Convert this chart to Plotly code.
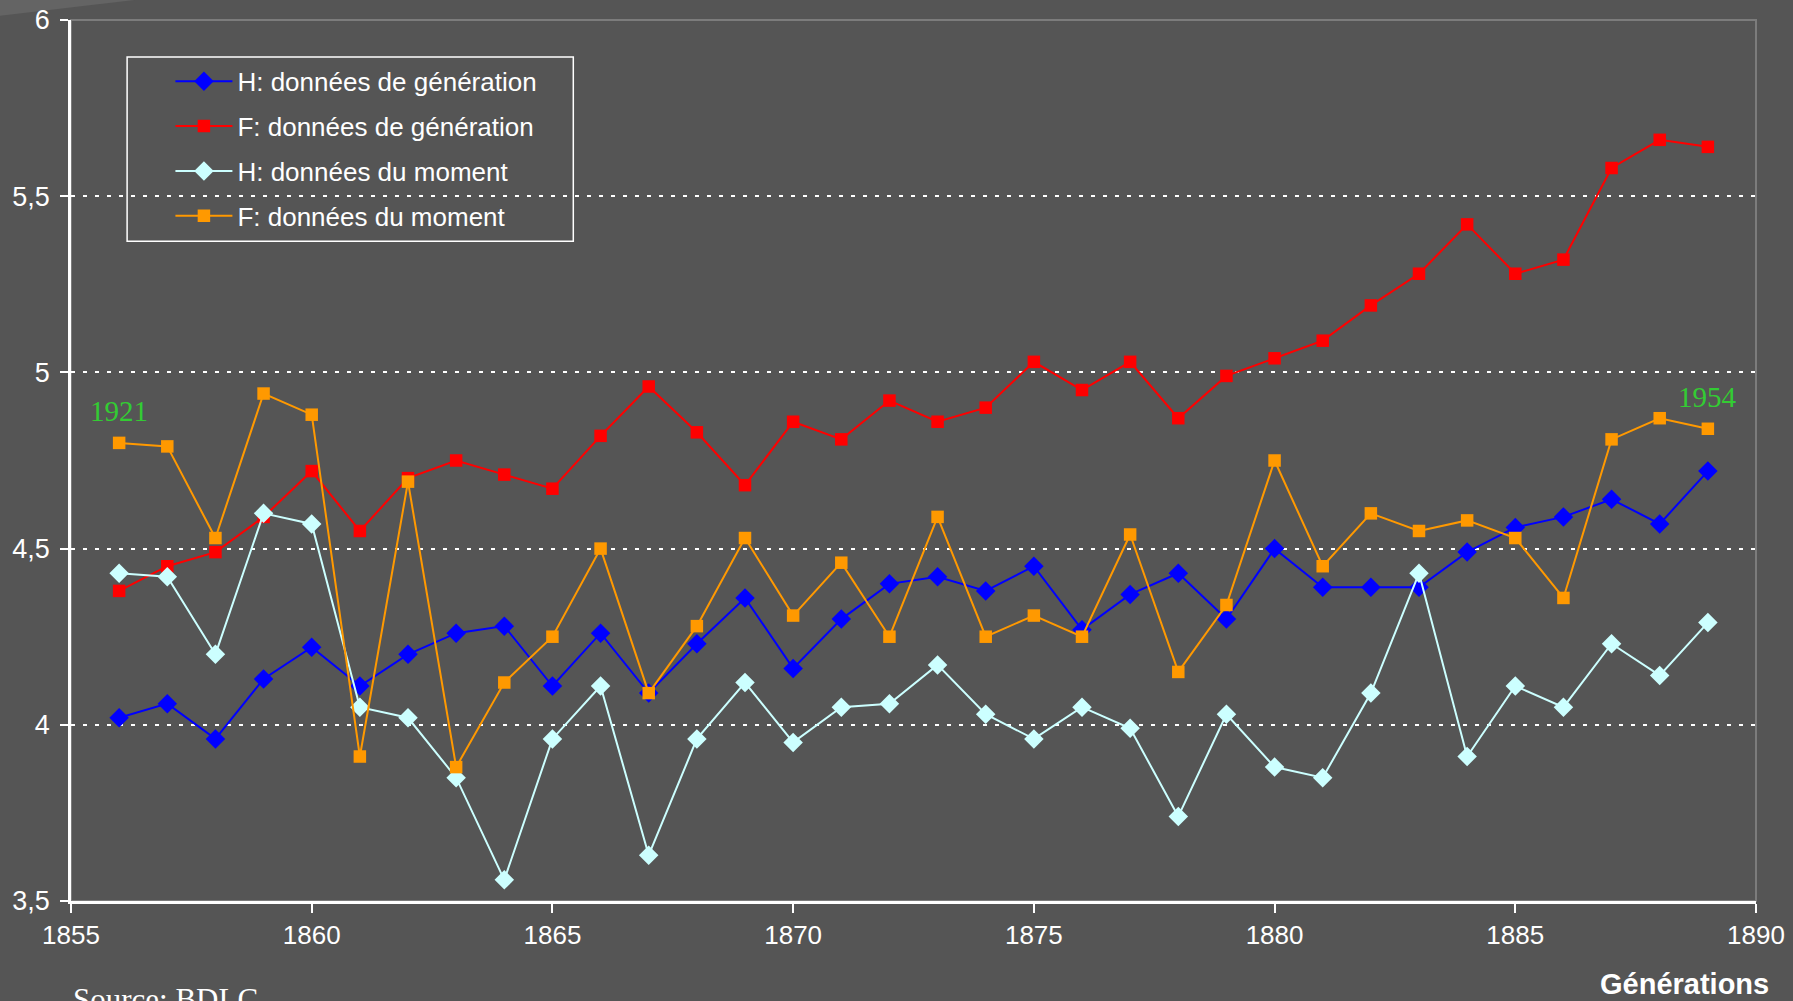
import plotly.graph_objects as go

years = list(range(1856, 1890))

h_generation = [4.02, 4.06, 3.96, 4.13, 4.22, 4.11, 4.20, 4.26, 4.28, 4.11,
                4.26, 4.09, 4.23, 4.36, 4.16, 4.30, 4.40, 4.42, 4.38, 4.45,
                4.27, 4.37, 4.43, 4.30, 4.50, 4.39, 4.39, 4.39, 4.49, 4.56,
                4.59, 4.64, 4.57, 4.72]
f_generation = [4.38, 4.45, 4.49, 4.59, 4.72, 4.55, 4.70, 4.75, 4.71, 4.67,
                4.82, 4.96, 4.83, 4.68, 4.86, 4.81, 4.92, 4.86, 4.90, 5.03,
                4.95, 5.03, 4.87, 4.99, 5.04, 5.09, 5.19, 5.28, 5.42, 5.28,
                5.32, 5.58, 5.66, 5.64]
h_moment = [4.43, 4.42, 4.20, 4.60, 4.57, 4.05, 4.02, 3.85, 3.56, 3.96,
            4.11, 3.63, 3.96, 4.12, 3.95, 4.05, 4.06, 4.17, 4.03, 3.96,
            4.05, 3.99, 3.74, 4.03, 3.88, 3.85, 4.09, 4.43, 3.91, 4.11,
            4.05, 4.23, 4.14, 4.29]
f_moment = [4.80, 4.79, 4.53, 4.94, 4.88, 3.91, 4.69, 3.88, 4.12, 4.25,
            4.50, 4.09, 4.28, 4.53, 4.31, 4.46, 4.25, 4.59, 4.25, 4.31,
            4.25, 4.54, 4.15, 4.34, 4.75, 4.45, 4.60, 4.55, 4.58, 4.53,
            4.36, 4.81, 4.87, 4.84]

series_names = ["H: données de génération", "F: données de génération",
                "H: données du moment", "F: données du moment"]
series_colors = ["#0000FF", "#FF0000", "#CCFFFF", "#FF9900"]
series_symbols = ["diamond", "square", "diamond", "square"]
series_values = [h_generation, f_generation, h_moment, f_moment]

y_ticks = [3.5, 4, 4.5, 5, 5.5, 6]
y_ticktext = ["3,5", "4", "4,5", "5", "5,5", "6"]
x_ticks = [1855, 1860, 1865, 1870, 1875, 1880, 1885, 1890]

start_label = "1921"
end_label = "1954"

BG = "#555555"
fig = go.Figure()
for name, col, sym, vals in zip(series_names, series_colors, series_symbols, series_values):
    fig.add_trace(go.Scatter(
        x=years, y=vals, name=name, mode="lines+markers", legendgroup=name,
        line=dict(color=col, width=2),
        marker=dict(symbol=sym, color=col, size=15 if sym == "diamond" else 12.5,
                    line=dict(width=0)),
    ))

fig.update_layout(
    width=1793, height=1001,
    margin=dict(l=71, r=37, t=20, b=100, autoexpand=False),
    paper_bgcolor=BG, plot_bgcolor=BG,
    font=dict(family="Liberation Sans, Arial, sans-serif", color="white", size=26),
    showlegend=True,
    legend=dict(x=0.059, y=0.957, xanchor="left", yanchor="top",
                bgcolor="rgba(0,0,0,0)", borderwidth=0,
                font=dict(size=26, color="white"),
                itemwidth=57, tracegroupgap=8, traceorder="grouped"),
    xaxis=dict(range=[1855, 1890], tickvals=x_ticks, showgrid=False, automargin=False,
               showline=True, linecolor="white", linewidth=2.5,
               ticks="outside", ticklen=9, tickwidth=2, tickcolor="white",
               zeroline=False, tickfont=dict(size=26), fixedrange=True),
    yaxis=dict(range=[3.5, 6], tickvals=y_ticks, ticktext=y_ticktext, automargin=False,
               showgrid=True, gridcolor="white", gridwidth=2, griddash="4px,8px",
               showline=True, linecolor="white", linewidth=2.5,
               ticks="outside", ticklen=8, tickwidth=2, tickcolor="white",
               zeroline=False, tickfont=dict(size=27), ticklabelstandoff=5,
               fixedrange=True),
    shapes=[
        dict(type="path", xref="paper", yref="paper",
             path="M -0.05 1.03 L 0.07 1.03 L -0.05 1.003 Z",
             fillcolor="#646464", line=dict(width=0), layer="below"),
        dict(type="rect", xref="paper", yref="paper", x0=0, x1=1, y0=0, y1=1,
             line=dict(color="#7c7c7c", width=2), layer="below"),
        dict(type="rect", xref="paper", yref="paper",
             x0=0.0333, x1=0.2981, y0=0.749, y1=0.958,
             line=dict(color="white", width=1.5), fillcolor="rgba(0,0,0,0)"),
    ],
    annotations=[
        dict(x=years[0], y=4.89, xref="x", yref="y", text=start_label, showarrow=False,
             font=dict(family="Liberation Serif, Times New Roman, serif", size=29, color="#33CC33")),
        dict(x=years[-1], y=4.93, xref="x", yref="y", text=end_label, showarrow=False,
             font=dict(family="Liberation Serif, Times New Roman, serif", size=29, color="#33CC33")),
        dict(x=0.0, y=-0.09, xref="paper", yref="paper", xanchor="left", yanchor="top",
             text="Source: BDLC", showarrow=False,
             font=dict(family="Liberation Serif, Times New Roman, serif", size=31, color="white")),
        dict(x=1.009, y=-0.074, xref="paper", yref="paper", xanchor="right", yanchor="top",
             text="<b>Générations</b>", showarrow=False,
             font=dict(family="Liberation Sans, Arial, sans-serif", size=29, color="white")),
    ],
)

fig.write_html("out.html", config={"displayModeBar": False},
               post_script="document.body.style.margin='0';document.body.style.overflow='hidden';")
